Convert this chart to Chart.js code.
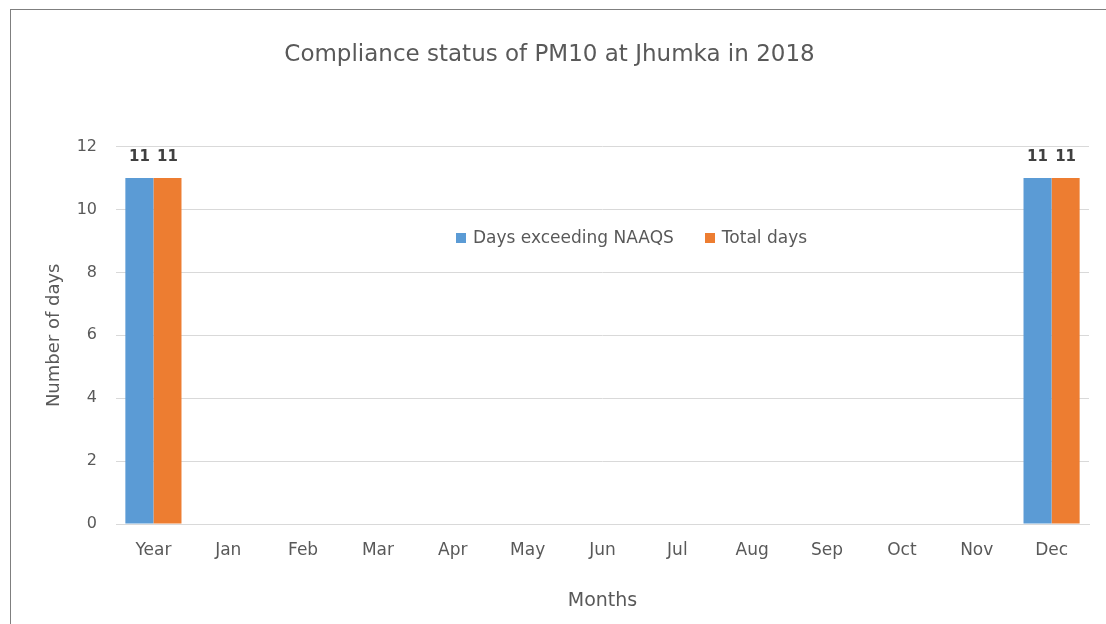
<!DOCTYPE html>
<html>
<head>
<meta charset="utf-8">
<script src="https://cdn.jsdelivr.net/npm/chart.js@4/dist/chart.umd.min.js"></script>
<style>
    body { margin: 0; background: #fff; overflow: hidden; }
    #wrap { position: relative; width: 1106px; height: 624px; overflow: hidden; }
    #frame {
        position: absolute; left: 10px; top: 9px; width: 1110px; height: 630px;
        border: 1px solid #7f7f7f; box-sizing: border-box;
    }
    #chart { position: absolute; left: 0; top: 0; }
    #legend {
        position: absolute; left: 456px; top: 227px; line-height: 20px;
        font-family: "DejaVu Sans", sans-serif; font-size: 17px; color: #595959;
        white-space: nowrap;
    }
    #legend span.sw { display: inline-block; width: 10px; height: 10px; margin-right: 7px; }
    #legend span.item { margin-right: 31px; }
</style>
</head>
<body>
<div id="wrap">
    <div id="frame"></div>
    <canvas id="chart" width="1106" height="624"></canvas>
    <div id="legend"></div>
</div>
<script>
// Compliance status data
const months = ['Year', 'Jan', 'Feb', 'Mar', 'Apr', 'May', 'Jun', 'Jul', 'Aug', 'Sep', 'Oct', 'Nov', 'Dec'];
const daysExceeding = [11, 0, 0, 0, 0, 0, 0, 0, 0, 0, 0, 0, 11];
const totalDays = [11, 0, 0, 0, 0, 0, 0, 0, 0, 0, 0, 0, 11];
const yTicks = [0, 2, 4, 6, 8, 10, 12];

const seriesNames = ['Days exceeding NAAQS', 'Total days'];
const seriesColors = ['#5B9BD5', '#ED7D31'];

const textGrey = '#595959';
const fontFamily = '"DejaVu Sans", sans-serif';

// Draw value labels above non-zero bars
const barLabels = {
    id: 'barLabels',
    afterDatasetsDraw(chart) {
        const ctx = chart.ctx;
        ctx.save();
        ctx.font = 'bold 15px ' + fontFamily;
        ctx.fillStyle = '#404040';
        ctx.textAlign = 'center';
        ctx.textBaseline = 'alphabetic';
        chart.data.datasets.forEach((ds, i) => {
            chart.getDatasetMeta(i).data.forEach((bar, j) => {
                if (ds.data[j] > 0) {
                    ctx.fillText(ds.data[j], bar.x, bar.y - 17);
                }
            });
        });
        ctx.restore();
    }
};

new Chart(document.getElementById('chart'), {
    type: 'bar',
    data: {
        labels: months,
        datasets: [
            {
                label: seriesNames[0],
                data: daysExceeding,
                backgroundColor: seriesColors[0],
                barPercentage: 1,
                categoryPercentage: 0.75
            },
            {
                label: seriesNames[1],
                data: totalDays,
                backgroundColor: seriesColors[1],
                barPercentage: 1,
                categoryPercentage: 0.75
            }
        ]
    },
    options: {
        responsive: false,
        animation: false,
        layout: {
            padding: { left: 10, top: 41, right: 17, bottom: 0 }
        },
        scales: {
            x: {
                afterFit: function(scale) { scale.height = 100; },
                grid: { display: false, drawTicks: false },
                border: { color: '#d9d9d9' },
                ticks: {
                    padding: 16,
                    color: textGrey,
                    font: { family: fontFamily, size: 17 }
                },
                title: {
                    display: true,
                    text: 'Months',
                    color: textGrey,
                    padding: { top: 0, bottom: 12 },
                    font: { family: fontFamily, size: 19 }
                }
            },
            y: {
                min: 0,
                max: 12,
                afterFit: function(scale) { scale.width = 106; },
                afterBuildTicks: function(scale) {
                    scale.ticks = yTicks.map(v => ({ value: v }));
                },
                grid: { color: '#d9d9d9', drawTicks: false },
                border: { display: false },
                ticks: {
                    padding: 19,
                    color: textGrey,
                    font: { family: fontFamily, size: 16 }
                },
                title: {
                    display: true,
                    text: 'Number of days',
                    color: textGrey,
                    padding: { top: 34, bottom: 0 },
                    font: { family: fontFamily, size: 18 }
                }
            }
        },
        plugins: {
            legend: { display: false },
            tooltip: { enabled: false },
            title: {
                display: true,
                text: 'Compliance status of PM10 at Jhumka in 2018',
                color: textGrey,
                padding: { top: 0, bottom: 78 },
                font: { family: fontFamily, size: 23, weight: 'normal' }
            }
        }
    },
    plugins: [barLabels]
});

// HTML legend placed inside the plot area
const legendEl = document.getElementById('legend');
legendEl.innerHTML = seriesNames.map((name, i) =>
    `<span class="item"><span class="sw" style="background:${seriesColors[i]}"></span>${name}</span>`
).join('');
</script>
</body>
</html>
